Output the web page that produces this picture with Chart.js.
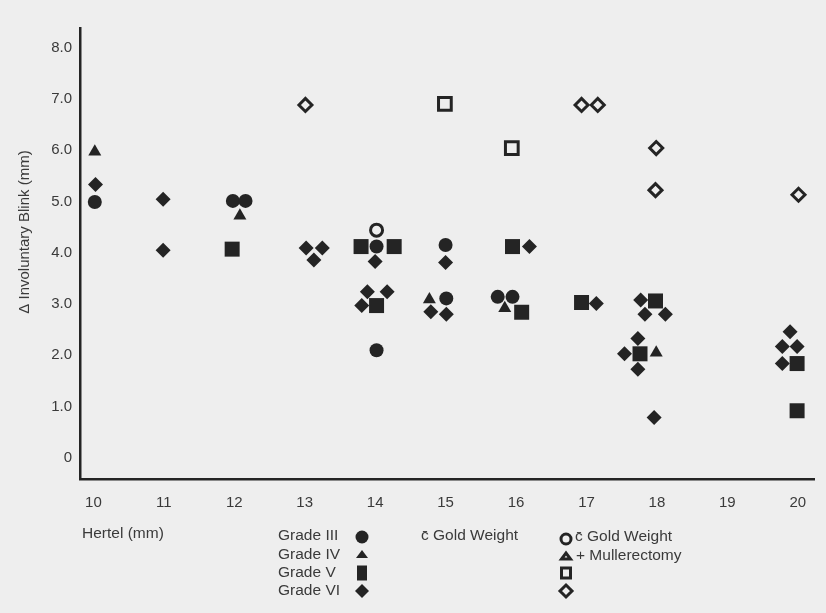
<!DOCTYPE html>
<html>
<head>
<meta charset="utf-8">
<script src="https://cdn.jsdelivr.net/npm/chart.js@4.4.1/dist/chart.umd.min.js"></script>
<style>
  body { margin: 0; background: #eeeeee; }
  canvas { display: block; }
</style>
</head>
<body>
<canvas id="myChart" width="826" height="613"></canvas>
<script>
// tick labels
const xTicks = [10, 11, 12, 13, 14, 15, 16, 17, 18, 19, 20];
const yTicks = [0, 1, 2, 3, 4, 5, 6, 7, 8];

// Grade III, filled circle
const grade3Hertel = [10.02, 11.98, 12.16, 14.02, 15.0, 14.02, 15.01, 15.74, 15.95];
const grade3Blink = [4.99, 5.01, 5.01, 4.12, 4.15, 2.10, 3.11, 3.14, 3.14];

// Grade IV, filled triangle
const grade4Hertel = [10.02, 12.08, 14.77, 15.84, 17.99];
const grade4Blink = [5.97, 4.72, 3.09, 2.92, 2.05];

// Grade V, filled square
const grade5Hertel = [11.97, 13.80, 14.27, 15.95, 14.02, 16.08, 16.93, 17.98, 17.76, 19.99, 19.99];
const grade5Blink = [4.07, 4.12, 4.12, 4.12, 2.97, 2.84, 3.03, 3.06, 2.03, 1.84, 0.92];

// Grade VI, filled diamond
const grade6Hertel = [10.03, 10.99, 10.99, 13.02, 13.25, 13.13, 14.0, 15.0, 16.19, 13.89, 14.17, 13.81, 14.79,
  15.01, 17.14, 17.77, 17.83, 18.12, 17.73, 17.54, 17.73, 17.96, 19.89, 19.78, 19.99, 19.78];
const grade6Blink = [5.33, 5.04, 4.05, 4.09, 4.09, 3.86, 3.83, 3.81, 4.12, 3.24, 3.24, 2.97, 2.85,
  2.80, 3.01, 3.08, 2.80, 2.80, 2.33, 2.03, 1.73, 0.79, 2.46, 2.17, 2.17, 1.84];

// gold weight + mullerectomy (open markers)
const grade3MullHertel = [14.02];
const grade3MullBlink = [4.44];
const grade5MullHertel = [14.99, 15.94];
const grade5MullBlink = [6.90, 6.04];
const grade6MullHertel = [13.01, 16.93, 17.16, 17.99, 17.98, 20.01];
const grade6MullBlink = [6.88, 6.88, 6.88, 6.04, 5.22, 5.13];

const ink = "#242424";
const textColor = "#3a3a3a";
const paper = "#eeeeee";

function toPoints(xs, ys) {
  return xs.map((x, i) => ({ x: x, y: ys[i] }));
}

function filled(label, xs, ys, style, radius) {
  return {
    label: label,
    data: toPoints(xs, ys),
    pointStyle: style,
    pointRadius: radius,
    pointHoverRadius: radius,
    backgroundColor: ink,
    borderColor: ink,
    borderWidth: 0,
  };
}

function open(label, xs, ys, style, radius) {
  return {
    label: label,
    data: toPoints(xs, ys),
    pointStyle: style,
    pointRadius: radius,
    pointHoverRadius: radius,
    backgroundColor: paper,
    borderColor: ink,
    borderWidth: 3,
  };
}

// legend block, axis titles and background
const legendPlugin = {
  id: "legendBlock",
  beforeDraw(chart) {
    const ctx = chart.ctx;
    ctx.save();
    ctx.fillStyle = paper;
    ctx.fillRect(0, 0, chart.width, chart.height);
    ctx.restore();
  },
  afterDraw(chart) {
    const ctx = chart.ctx;
    ctx.save();
    ctx.font = "15px 'Liberation Sans', Arial, sans-serif";
    ctx.fillStyle = textColor;
    ctx.textBaseline = "middle";
    ctx.textAlign = "left";

    // y title
    ctx.save();
    ctx.translate(25, 232);
    ctx.rotate(-Math.PI / 2);
    ctx.textAlign = "center";
    ctx.fillText("\u0394 Involuntary Blink (mm)", 0, 0);
    ctx.restore();

    ctx.font = "15.5px 'Liberation Sans', Arial, sans-serif";
    ctx.fillText("Hertel (mm)", 82, 534);

    const rows = [536, 555, 573, 591];
    ["Grade III", "Grade IV", "Grade V", "Grade VI"].forEach((t, i) => {
      ctx.fillText(t, 278, rows[i]);
    });
    ctx.fillText("c\u0304 Gold Weight", 421, rows[0]);
    ctx.fillText("c\u0304 Gold Weight", 575, rows[0] + 1);
    ctx.fillText("+ Mullerectomy", 576, rows[1] + 1);

    // legend markers
    ctx.fillStyle = ink;
    ctx.strokeStyle = ink;
    ctx.lineWidth = 3;
    const mx = 362;
    ctx.beginPath();
    ctx.arc(mx, rows[0] + 1, 6.5, 0, Math.PI * 2);
    ctx.fill();
    ctx.beginPath();
    ctx.moveTo(mx - 6, rows[1] + 3);
    ctx.lineTo(mx + 6, rows[1] + 3);
    ctx.lineTo(mx, rows[1] - 5);
    ctx.closePath();
    ctx.fill();
    ctx.fillRect(mx - 5, rows[2] - 7.5, 10, 15);
    ctx.beginPath();
    ctx.moveTo(mx, rows[3] - 7);
    ctx.lineTo(mx + 7, rows[3]);
    ctx.lineTo(mx, rows[3] + 7);
    ctx.lineTo(mx - 7, rows[3]);
    ctx.closePath();
    ctx.fill();

    const ox = 566;
    ctx.beginPath();
    ctx.arc(ox, rows[0] + 3, 5, 0, Math.PI * 2);
    ctx.stroke();
    ctx.beginPath();
    ctx.moveTo(ox - 4.5, rows[1] + 4);
    ctx.lineTo(ox + 4.5, rows[1] + 4);
    ctx.lineTo(ox, rows[1] - 2);
    ctx.closePath();
    ctx.stroke();
    ctx.strokeRect(ox - 4.5, rows[2] - 5, 9, 10);
    ctx.beginPath();
    ctx.moveTo(ox, rows[3] - 6);
    ctx.lineTo(ox + 6, rows[3]);
    ctx.lineTo(ox, rows[3] + 6);
    ctx.lineTo(ox - 6, rows[3]);
    ctx.closePath();
    ctx.stroke();
    ctx.restore();
  },
};

Chart.defaults.font.family = "'Liberation Sans', Arial, sans-serif";

var ctx = document.getElementById("myChart").getContext("2d");
var myChart = new Chart(ctx, {
  type: "scatter",
  data: {
    datasets: [
      filled("Grade III", grade3Hertel, grade3Blink, "circle", 7),
      filled("Grade IV", grade4Hertel, grade4Blink, "triangle", 7.5),
      filled("Grade V", grade5Hertel, grade5Blink, "rect", 10.6),
      filled("Grade VI", grade6Hertel, grade6Blink, "rectRot", 7.5),
      open("Grade III + Mullerectomy", grade3MullHertel, grade3MullBlink, "circle", 6),
      open("Grade V + Mullerectomy", grade5MullHertel, grade5MullBlink, "rect", 9),
      open("Grade VI + Mullerectomy", grade6MullHertel, grade6MullBlink, "rectRot", 6.5),
    ],
  },
  options: {
    responsive: false,
    animation: false,
    layout: { padding: { top: 28, right: 9, left: 0, bottom: 0 } },
    plugins: {
      legend: { display: false },
      tooltip: { enabled: false },
    },
    scales: {
      x: {
        type: "linear",
        min: 9.81,
        max: 20.23,
        afterBuildTicks: (axis) => {
          axis.ticks = xTicks.map((v) => ({ value: v }));
        },
        afterFit: (scale) => {
          scale.height = 134;
        },
        grid: { color: "rgba(0,0,0,0)", drawTicks: false },
        border: { display: true, color: ink, width: 2.5 },
        ticks: {
          padding: 15,
          color: textColor,
          font: { size: 15 },
          maxRotation: 0,
          callback: (v) => String(v),
        },
      },
      y: {
        type: "linear",
        min: -0.41,
        max: 8.38,
        afterBuildTicks: (axis) => {
          axis.ticks = yTicks.map((v) => ({ value: v }));
        },
        afterFit: (scale) => {
          scale.width = 80;
        },
        grid: { color: "rgba(0,0,0,0)", drawTicks: false },
        border: { display: true, color: ink, width: 2.5 },
        ticks: {
          padding: 8,
          color: textColor,
          font: { size: 15 },
          callback: (v) => (v === 0 ? "0" : v.toFixed(1)),
        },
      },
    },
  },
  plugins: [legendPlugin],
});
</script>
</body>
</html>
